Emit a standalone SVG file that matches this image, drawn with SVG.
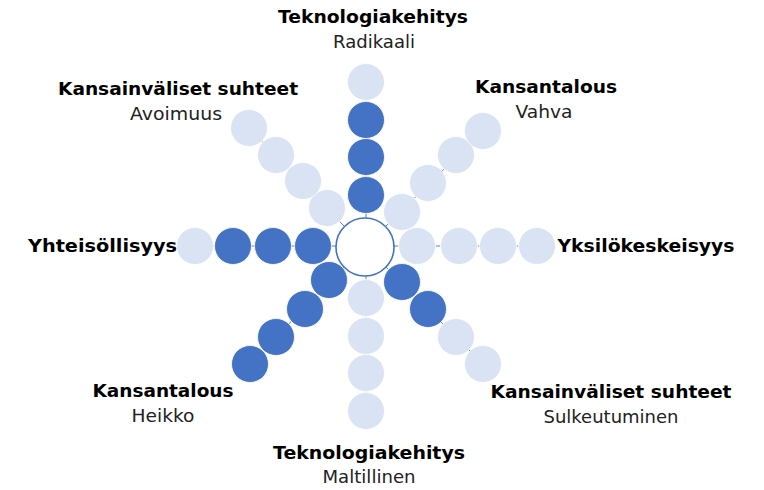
<svg xmlns="http://www.w3.org/2000/svg" width="764" height="490" viewBox="0 0 764 490">
<style>
.d{fill:#4472C4;stroke:#fff;stroke-width:0.8}
.l{fill:#DAE3F3;stroke:#fff;stroke-width:0.8}
.c{fill:#fff;stroke:#4472C4;stroke-width:1.6}
.k{stroke:#4472C4;stroke-width:0.9;fill:none}
.b{font-family:"DejaVu Sans",Verdana,sans-serif;font-weight:bold;font-size:18px;fill:#000;text-anchor:middle}
.r{font-family:"DejaVu Sans",Verdana,sans-serif;font-size:17px;fill:#222;text-anchor:middle}
</style>
<rect width="764" height="490" fill="#fff"/>
<g id="connectors">
<line class="k" x1="366" y1="218" x2="366" y2="82"/>
<line class="k" x1="386" y1="226" x2="483" y2="131"/>
<line class="k" x1="394" y1="246" x2="537" y2="246"/>
<line class="k" x1="386" y1="267" x2="483" y2="364"/>
<line class="k" x1="366" y1="276" x2="366" y2="411"/>
<line class="k" x1="344" y1="267" x2="250" y2="364"/>
<line class="k" x1="336" y1="246" x2="195" y2="246"/>
<line class="k" x1="344" y1="226" x2="249" y2="128"/>
</g>
<g id="center"><circle class="c" cx="365" cy="247" r="29"/></g>
<g id="spoke-top">
<circle class="d" cx="366" cy="195" r="18.5"/>
<circle class="d" cx="366" cy="157" r="18.5"/>
<circle class="d" cx="366" cy="120" r="18.5"/>
<circle class="l" cx="366" cy="82" r="18.5"/>
</g>
<g id="spoke-upper-right">
<circle class="l" cx="402" cy="212" r="18.5"/>
<circle class="l" cx="428" cy="183" r="18.5"/>
<circle class="l" cx="456" cy="155" r="18.5"/>
<circle class="l" cx="483" cy="131" r="18.5"/>
</g>
<g id="spoke-right">
<circle class="l" cx="417" cy="246" r="18.5"/>
<circle class="l" cx="459" cy="246" r="18.5"/>
<circle class="l" cx="498" cy="246" r="18.5"/>
<circle class="l" cx="537" cy="246" r="18.5"/>
</g>
<g id="spoke-lower-right">
<circle class="d" cx="402" cy="282" r="18.5"/>
<circle class="d" cx="428" cy="309" r="18.5"/>
<circle class="l" cx="456" cy="337" r="18.5"/>
<circle class="l" cx="483" cy="364" r="18.5"/>
</g>
<g id="spoke-bottom">
<circle class="l" cx="366" cy="298" r="18.5"/>
<circle class="l" cx="366" cy="336" r="18.5"/>
<circle class="l" cx="366" cy="373" r="18.5"/>
<circle class="l" cx="366" cy="411" r="18.5"/>
</g>
<g id="spoke-lower-left">
<circle class="d" cx="329" cy="280" r="18.5"/>
<circle class="d" cx="305" cy="309" r="18.5"/>
<circle class="d" cx="276" cy="337" r="18.5"/>
<circle class="d" cx="250" cy="364" r="18.5"/>
</g>
<g id="spoke-left">
<circle class="d" cx="313" cy="246" r="18.5"/>
<circle class="d" cx="273" cy="246" r="18.5"/>
<circle class="d" cx="233" cy="246" r="18.5"/>
<circle class="l" cx="195" cy="246" r="18.5"/>
</g>
<g id="spoke-upper-left">
<circle class="l" cx="327" cy="208" r="18.5"/>
<circle class="l" cx="303" cy="181" r="18.5"/>
<circle class="l" cx="276" cy="155" r="18.5"/>
<circle class="l" cx="249" cy="128" r="18.5"/>
</g>
<g id="label-top">
<text class="b" x="373" y="23" textLength="190" lengthAdjust="spacingAndGlyphs">Teknologiakehitys</text>
<text class="r" x="374" y="48" textLength="82" lengthAdjust="spacingAndGlyphs">Radikaali</text>
</g>
<g id="label-upper-left">
<text class="b" x="178" y="95" textLength="240" lengthAdjust="spacingAndGlyphs">Kansainväliset suhteet</text>
<text class="r" x="176" y="120" textLength="92" lengthAdjust="spacingAndGlyphs">Avoimuus</text>
</g>
<g id="label-upper-right">
<text class="b" x="546" y="93" textLength="142" lengthAdjust="spacingAndGlyphs">Kansantalous</text>
<text class="r" x="544" y="118" textLength="57" lengthAdjust="spacingAndGlyphs">Vahva</text>
</g>
<g id="label-left">
<text class="b" x="102.5" y="252" textLength="149" lengthAdjust="spacingAndGlyphs">Yhteisöllisyys</text>
</g>
<g id="label-right">
<text class="b" x="646" y="252" textLength="177" lengthAdjust="spacingAndGlyphs">Yksilökeskeisyys</text>
</g>
<g id="label-lower-left">
<text class="b" x="163" y="397" textLength="141" lengthAdjust="spacingAndGlyphs">Kansantalous</text>
<text class="r" x="163" y="422" textLength="63" lengthAdjust="spacingAndGlyphs">Heikko</text>
</g>
<g id="label-lower-right">
<text class="b" x="611" y="398" textLength="241" lengthAdjust="spacingAndGlyphs">Kansainväliset suhteet</text>
<text class="r" x="611" y="423" textLength="135" lengthAdjust="spacingAndGlyphs">Sulkeutuminen</text>
</g>
<g id="label-bottom">
<text class="b" x="369" y="459" textLength="192" lengthAdjust="spacingAndGlyphs">Teknologiakehitys</text>
<text class="r" x="369" y="483" textLength="93" lengthAdjust="spacingAndGlyphs">Maltillinen</text>
</g>
</svg>
